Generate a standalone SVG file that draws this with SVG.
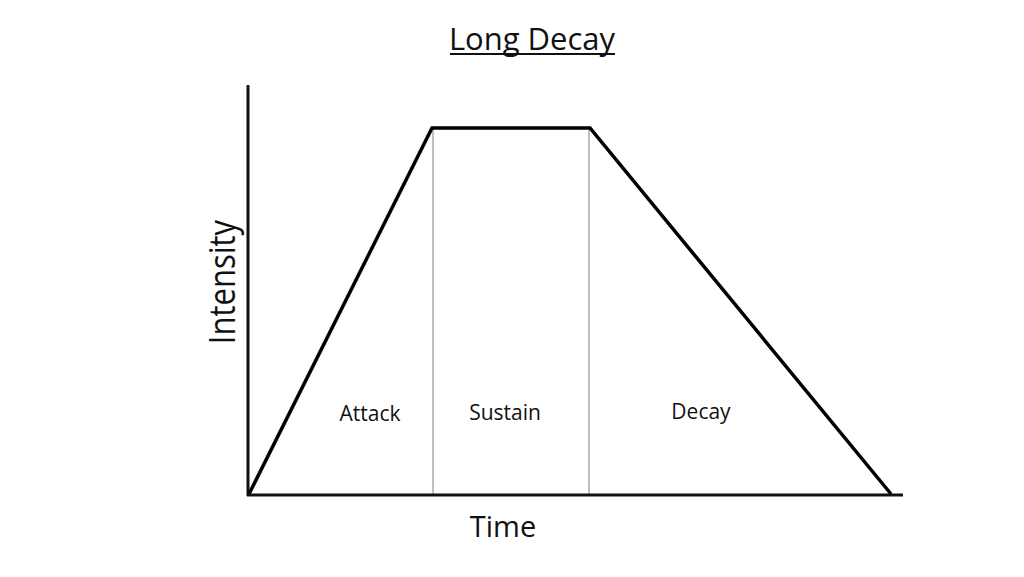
<svg xmlns="http://www.w3.org/2000/svg" width="1024" height="577" viewBox="0 0 1024 577">
<style>
.t{font-family:"Open Sans","Liberation Sans",sans-serif;fill:#111;}
.axis{stroke:#111;stroke-width:3;fill:none;}
.curve{stroke:#000;stroke-width:3.5;fill:none;stroke-linejoin:miter;}
.div{stroke:#c0c0c0;stroke-width:2;}
.lbl{font-size:21px;text-anchor:middle;}
.big{font-size:29px;text-anchor:middle;}
</style>
<rect width="1024" height="577" fill="#fff"/>
<g id="title">
<text class="t big" x="532" y="50" style="font-size:31px">Long Decay</text>
<line x1="450" y1="54" x2="615" y2="54" stroke="#111" stroke-width="2"/>
</g>
<g id="connectors">
<line class="div" x1="433" y1="128" x2="433" y2="494"/>
<line class="div" x1="589" y1="128" x2="589" y2="494"/>
<line class="axis" x1="248" y1="85" x2="248" y2="496"/>
<line class="axis" x1="247" y1="495" x2="903" y2="495"/>
<polyline class="curve" points="249,494 432,128 590,128 891,494"/>
</g>
<g id="axis-labels">
<text class="t big" x="503" y="537">Time</text>
<text class="t big" transform="translate(235,282) rotate(-90) scale(1,1.15)" x="0" y="0" style="font-size:31px">Intensity</text>
</g>
<g id="phases">
<text class="t lbl" x="370" y="421">Attack</text>
<text class="t lbl" x="505" y="420">Sustain</text>
<text class="t lbl" x="701" y="419">Decay</text>
</g>
</svg>
